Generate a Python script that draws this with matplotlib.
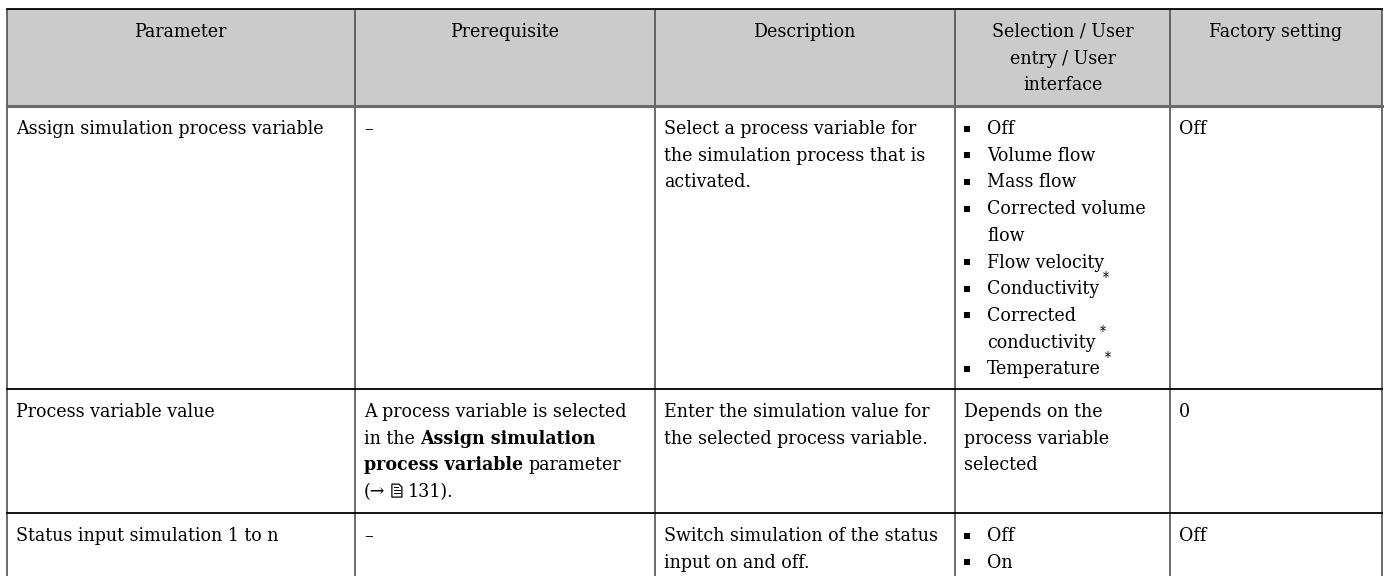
import matplotlib
matplotlib.use('Agg')
import matplotlib.pyplot as plt
from matplotlib.patches import Rectangle, Polygon

headers = ['Parameter', 'Prerequisite', 'Description',
           'Selection / User\nentry / User\ninterface', 'Factory setting']

parameters = ['Assign simulation process variable',
              'Process variable value',
              'Status input simulation 1 to n']

# **...** = bold, {doc} = page reference icon
prerequisites = [
    ['–'],
    ['A process variable is selected',
     'in the **Assign simulation**',
     '**process variable** parameter',
     '(→ {doc} 131).'],
    ['–'],
]

descriptions = [
    ['Select a process variable for', 'the simulation process that is', 'activated.'],
    ['Enter the simulation value for', 'the selected process variable.'],
    ['Switch simulation of the status', 'input on and off.'],
]

# one inner list per entry (wrapped lines), trailing * = footnote mark
selections = [
    [['Off'], ['Volume flow'], ['Mass flow'], ['Corrected volume', 'flow'],
     ['Flow velocity'], ['Conductivity*'], ['Corrected', 'conductivity*'],
     ['Temperature*']],
    [['Depends on the', 'process variable', 'selected']],
    [['Off'], ['On']],
]
selection_bullets = [True, False, True]

factory_settings = ['Off', '0', 'Off']

# layout (pixels)
W, H = 1389, 576
col_x = [7, 355, 655, 955, 1170, 1382]
table_top = 9
row_tops = [106, 389, 513]
LINE = 26.7
BASE = 28
PAD = 9
FONT = ['DejaVu Serif', 'DejaVu Sans']
STRETCH = 'condensed'

fig = plt.figure(figsize=(W / 100, H / 100), dpi=100)
ax = fig.add_axes([0, 0, 1, 1])
ax.set_xlim(0, W)
ax.set_ylim(H, 0)
ax.axis('off')
renderer = fig.canvas.get_renderer()


def put(x, y, s, size, weight='normal', ha='left'):
    return ax.text(x, y, s, fontsize=size, family=FONT, fontweight=weight,
                   fontstretch=STRETCH, va='baseline', ha=ha)


def text_width(s, size, weight='normal'):
    t = put(0, 0, s, size, weight)
    w = t.get_window_extent(renderer).width
    t.remove()
    return w


def advance(s, size, weight='normal'):
    # width including leading / trailing spaces
    return text_width('x' + s + 'x', size, weight) - text_width('xx', size, weight)


# scale the font so that line widths match the reference
fs = 10 * 261 / text_width('A process variable is selected', 10)


def draw_doc_icon(x, y):
    # small page with folded corner, baseline at y
    pts = [(x, y), (x, y - 13), (x + 7, y - 13), (x + 10, y - 10), (x + 10, y)]
    ax.add_patch(Polygon(pts, closed=True, fill=False, edgecolor='black', lw=0.9))
    for dy in (4, 7):
        ax.plot([x + 2, x + 8], [y - dy, y - dy], color='black', lw=0.7)
    ax.plot([x + 2, x + 6], [y - 10, y - 10], color='black', lw=0.7)
    return 11


def draw_runs(x, y, line):
    parts = line.split('**')
    for i, part in enumerate(parts):
        weight = 'bold' if i % 2 == 1 else 'normal'
        for j, chunk in enumerate(part.split('{doc}')):
            if j > 0:
                x += draw_doc_icon(x + 1, y)
            if chunk:
                put(x + advance(chunk[:len(chunk) - len(chunk.lstrip())], fs, weight), y,
                    chunk.strip(), fs, weight)
                x += advance(chunk, fs, weight)
    return x


def draw_entry(x, y, word):
    star = word.endswith('*')
    if star:
        word = word[:-1]
    put(x, y, word, fs)
    if star:
        w = text_width(word, fs)
        put(x + w + 4, y - 12, '*', fs * 0.7)


# header
ax.add_patch(Rectangle((col_x[0], table_top), col_x[-1] - col_x[0],
                       row_tops[0] - table_top, facecolor='#cbcbcb', edgecolor='none'))
for c, label in enumerate(headers):
    cx = (col_x[c] + col_x[c + 1]) / 2
    for i, ln in enumerate(label.split('\n')):
        put(cx, table_top + BASE + i * LINE, ln, fs, ha='center')

# body rows
for r in range(len(parameters)):
    y0 = row_tops[r] + BASE
    draw_entry(col_x[0] + PAD, y0, parameters[r])
    for i, ln in enumerate(prerequisites[r]):
        draw_runs(col_x[1] + PAD, y0 + i * LINE, ln)
    for i, ln in enumerate(descriptions[r]):
        draw_entry(col_x[2] + PAD, y0 + i * LINE, ln)
    n = 0
    for item in selections[r]:
        if selection_bullets[r]:
            ax.plot(col_x[3] + 12, y0 + n * LINE - 5.5, marker='s', ms=5,
                    color='black', mew=0)
            tx = col_x[3] + 32
        else:
            tx = col_x[3] + PAD
        for ln in item:
            draw_entry(tx, y0 + n * LINE, ln)
            n += 1
    draw_entry(col_x[4] + PAD, y0, factory_settings[r])

# grid lines
for x in col_x:
    ax.plot([x, x], [table_top, H], color='#444444', lw=1.1, solid_capstyle='butt')
ax.plot([col_x[0], col_x[-1]], [table_top, table_top], color='black', lw=1.3)
ax.plot([col_x[0], col_x[-1]], [row_tops[0], row_tops[0]], color='#6a6a6a', lw=2.2)
for y in row_tops[1:]:
    ax.plot([col_x[0], col_x[-1]], [y, y], color='black', lw=1.3)

fig.savefig('out.png', dpi=100, facecolor='white')
